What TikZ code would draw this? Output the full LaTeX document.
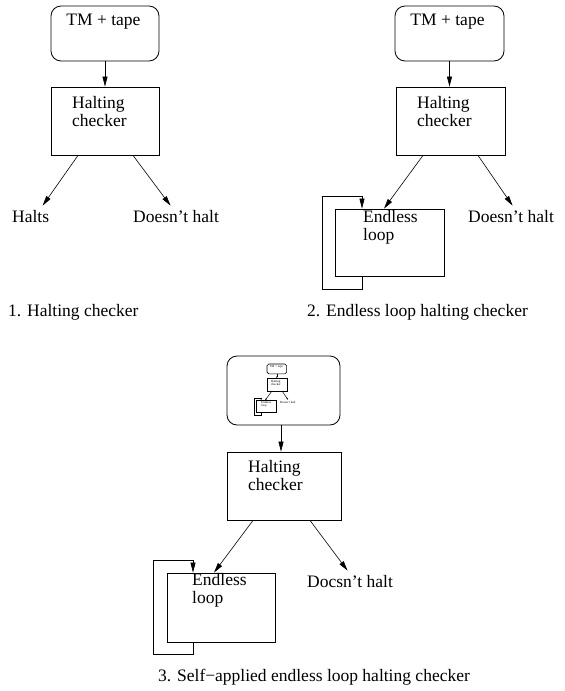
\documentclass[tikz,border=0pt]{standalone}
\usepackage{fontspec}
\setmainfont{Liberation Serif}
\usetikzlibrary{arrows.meta}
\newcommand\fsz{\fontsize{17.5}{18}\selectfont}
\begin{document}
\begin{tikzpicture}[x=1pt,y=-1pt,
  box/.style={draw, line width=0.8pt, inner sep=0pt},
  rbox/.style={box, rounded corners=10pt},
  lbl/.style={inner sep=0pt, anchor=west, font=\fsz},
  arr/.style={-{Triangle[length=10pt,width=5pt]}, line width=0.6pt},
  looppanel/.pic={
    \node[rbox, minimum width=109pt, minimum height=55pt] (-tm) at (54.5,27.5) {};
    \node[lbl, anchor=center] (-tmt) at (52.5,16) {TM + tape};
    \node[box, minimum width=109pt, minimum height=68pt] (-hc) at (55.5,115) {};
    \node[lbl, align=left] (-hct) at (22,106) {Halting\\checker};
    \node[box, minimum width=109pt, minimum height=67pt] (-el) at (-5.5,236.5) {};
    \node[lbl, align=left] (-elt) at (-32,221.5) {Endless\\loop};
    \node[lbl] (-dh) at (73,211) {Doesn’t halt};
    \path (-tm.south) ++(0,0) coordinate (-t0);
    \path (-hc.south) ++(-27.5,0) coordinate (-a1s);
    \path (-el.north) ++(-5.5,0) coordinate (-a1t);
    \path (-hc.south) ++(27.5,0) coordinate (-a2s);
    \path (-dh.north) ++(1.5,-5) coordinate (-a2t);
    \path (-el.south) ++(-27.5,0) coordinate (-ls);
    \path (-el.north) ++(-27.5,0) coordinate (-lt);
    \draw[arr] (-t0) -- (-t0 |- -hc.north);
    \draw[arr] (-a1s) -- (-a1t);
    \draw[arr] (-a2s) -- (-a2t);
    \draw[arr] (-ls) -- ++(0,13) -- ++(-40,0) -- ++(0,-93) -- ++(40,0) -- (-lt);
  }
]
\useasboundingbox (0,0) rectangle (565,691);

% ---------- Panel 1 ----------
\node[rbox, minimum width=108pt, minimum height=55pt] (tm1) at (105,33.5) {};
\node[lbl, anchor=center] (tmt1) at (103.5,22) {TM + tape};
\node[box, minimum width=108pt, minimum height=68pt] (hc1) at (105,121) {};
\node[lbl, align=left] (hct1) at (72,112) {Halting\\checker};
\node[lbl] (halts) at (12,217) {Halts};
\node[lbl] (dh1) at (133,217) {Doesn’t halt};
\path (hc1.south) ++(-27,0) coordinate (h1s);
\path (halts.north) ++(12,-5) coordinate (h1t);
\path (hc1.south) ++(28,0) coordinate (d1s);
\path (dh1.north) ++(-5.5,-5) coordinate (d1t);
\draw[arr] (tm1) -- (hc1);
\draw[arr] (h1s) -- (h1t);
\draw[arr] (d1s) -- (d1t);
\node[lbl] (cap1) at (8,312) {1. Halting checker};

% ---------- Panel 2 ----------
\pic (p2) at (395,6) {looppanel};
\node[lbl] (cap2) at (307,312) {2. Endless loop halting checker};

% ---------- Panel 3 ----------
\node[rbox, minimum width=113pt, minimum height=69pt] (tm3) at (283.5,390.5) {};
\pic[scale=0.18, transform shape,
     arr/.style={-{Triangle[length=2pt,width=1.2pt]}, line width=0.5pt},
     rbox/.style={draw, line width=0.6pt, inner sep=0pt, rounded corners=1.8pt},
     box/.style={draw, line width=0.6pt, inner sep=0pt}] (mini) at (267,364) {looppanel};
\node[box, minimum width=114pt, minimum height=68pt] (hc3) at (284,486) {};
\node[lbl, align=left] (hct3) at (248,476) {Halting\\checker};
\node[box, minimum width=108pt, minimum height=69pt] (el3) at (221,607.5) {};
\node[lbl, align=left] (elt3) at (192,590) {Endless\\loop};
\node[lbl] (dh3) at (307,582) {Docsn’t halt};
\path (tm3.south) ++(-2.5,0) coordinate (t3);
\path (hc3.south) ++(-31,0) coordinate (a3s);
\path (el3.north) ++(-7,0) coordinate (a3t);
\path (hc3.south) ++(26,0) coordinate (b3s);
\path (dh3.north) ++(-2.5,-5) coordinate (b3t);
\path (el3.south) ++(-28,0) coordinate (l3s);
\path (el3.north) ++(-28,0) coordinate (l3t);
\draw[arr] (t3) -- (t3 |- hc3.north);
\draw[arr] (a3s) -- (a3t);
\draw[arr] (b3s) -- (b3t);
\draw[arr] (l3s) -- ++(0,12) -- ++(-40,0) -- ++(0,-94) -- ++(40,0) -- (l3t);
\node[lbl] (cap3) at (158,677) {3. Self−applied endless loop halting checker};
\end{tikzpicture}
\end{document}
